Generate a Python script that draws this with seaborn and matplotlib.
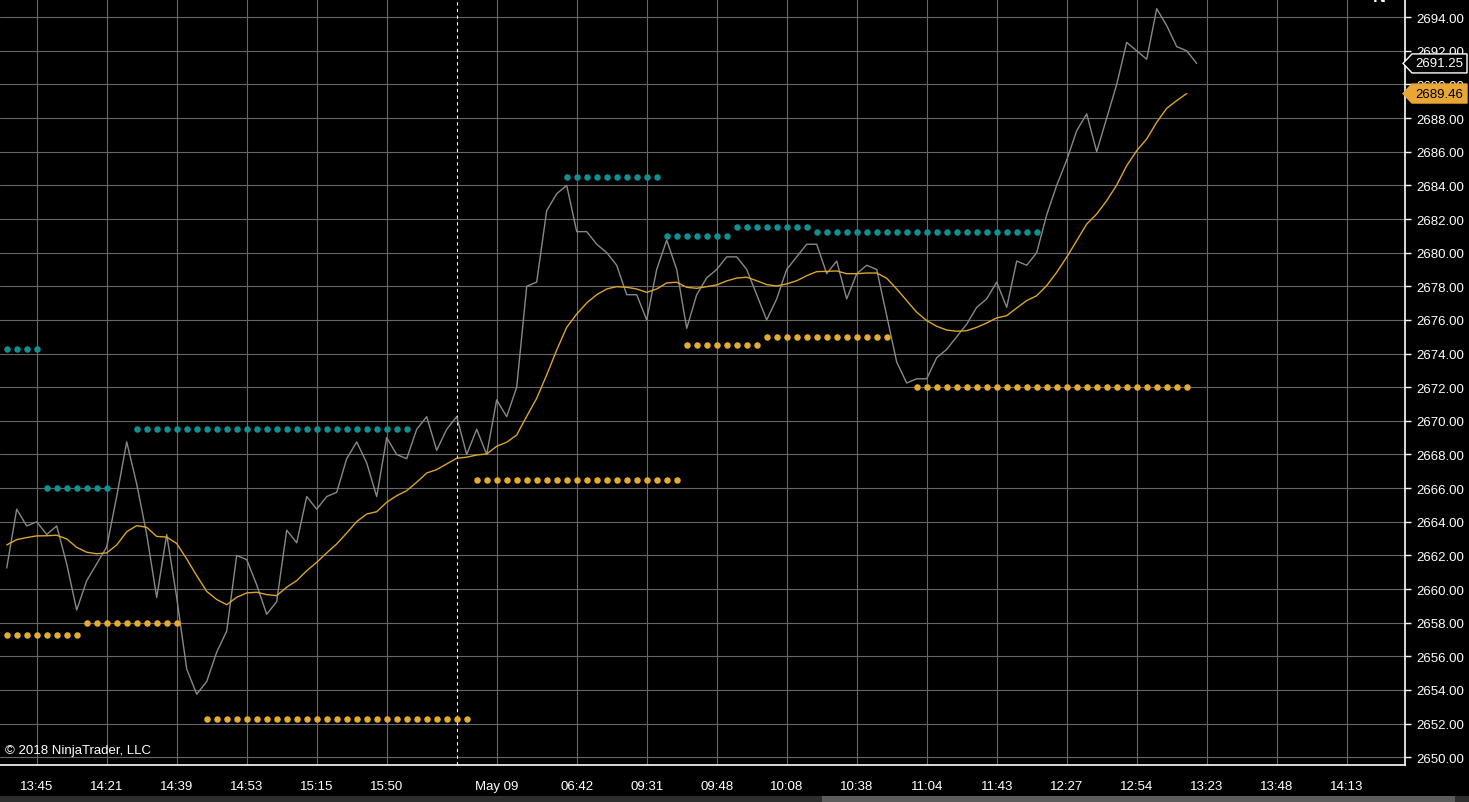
import numpy as np
import pandas as pd
import matplotlib
matplotlib.use("Agg")
import matplotlib.pyplot as plt
from matplotlib.patches import Polygon, Rectangle
import seaborn as sns

# Close prices per bar (gray line)
close = [
    2661.25, 2664.75, 2663.75, 2664.00, 2663.25, 2663.75, 2661.50, 2658.75, 2660.50, 2661.50,
    2662.50, 2665.50, 2668.75, 2666.25, 2663.25, 2659.50, 2663.25, 2659.50, 2655.25, 2653.75,
    2654.50, 2656.25, 2657.50, 2662.00, 2661.75, 2660.25, 2658.50, 2659.25, 2663.50, 2662.75,
    2665.50, 2664.75, 2665.50, 2665.75, 2667.75, 2668.75, 2667.50, 2665.50, 2669.00, 2668.00,
    2667.75, 2669.50, 2670.25, 2668.25, 2669.50, 2670.25, 2668.00, 2669.50, 2668.00, 2671.25,
    2670.25, 2672.00, 2678.00, 2678.25, 2682.50, 2683.50, 2684.00, 2681.25, 2681.25, 2680.50,
    2680.00, 2679.25, 2677.50, 2677.50, 2676.00, 2679.00, 2680.75, 2679.00, 2675.50, 2677.50,
    2678.50, 2679.00, 2679.75, 2679.75, 2679.00, 2677.50, 2676.00, 2677.25, 2679.00, 2679.75,
    2680.50, 2680.50, 2678.75, 2679.50, 2677.25, 2678.75, 2679.25, 2679.00, 2676.25, 2673.50,
    2672.25, 2672.50, 2672.50, 2673.75, 2674.25, 2675.00, 2675.75, 2676.75, 2677.25, 2678.25,
    2676.75, 2679.50, 2679.25, 2680.00, 2682.25, 2684.00, 2685.50, 2687.25, 2688.25, 2686.00,
    2688.00, 2690.00, 2692.50, 2692.00, 2691.50, 2694.50, 2693.50, 2692.25, 2692.00, 2691.25,
]

# Moving average per bar (orange line)
average = [
    2662.62, 2662.94, 2663.06, 2663.16, 2663.17, 2663.20, 2662.98, 2662.48, 2662.19, 2662.10,
    2662.15, 2662.62, 2663.41, 2663.77, 2663.67, 2663.13, 2663.09, 2662.71, 2661.79, 2660.80,
    2659.86, 2659.38, 2659.07, 2659.51, 2659.77, 2659.81, 2659.67, 2659.61, 2660.11, 2660.50,
    2661.09, 2661.59, 2662.15, 2662.68, 2663.33, 2664.01, 2664.46, 2664.60, 2665.16, 2665.55,
    2665.85, 2666.35, 2666.90, 2667.10, 2667.44, 2667.78, 2667.84, 2667.97, 2668.03, 2668.49,
    2668.73, 2669.16, 2670.27, 2671.34, 2672.73, 2674.21, 2675.56, 2676.35, 2677.01, 2677.50,
    2677.84, 2677.98, 2677.94, 2677.84, 2677.64, 2677.84, 2678.20, 2678.24, 2677.94, 2677.88,
    2677.98, 2678.08, 2678.32, 2678.49, 2678.54, 2678.33, 2678.10, 2678.02, 2678.14, 2678.33,
    2678.63, 2678.87, 2678.89, 2678.91, 2678.75, 2678.75, 2678.79, 2678.79, 2678.48, 2677.84,
    2677.15, 2676.46, 2675.96, 2675.62, 2675.40, 2675.33, 2675.36, 2675.56, 2675.82, 2676.12,
    2676.25, 2676.71, 2677.15, 2677.44, 2678.04, 2678.83, 2679.73, 2680.71, 2681.70, 2682.30,
    2683.09, 2684.02, 2685.17, 2686.06, 2686.76, 2687.75, 2688.58, 2689.04, 2689.46,
]

# Upper (teal) and lower (orange) dotted levels: first bar, last bar, price
upper_start = [0, 4, 13, 56, 66, 73, 81]
upper_end = [3, 10, 40, 65, 72, 80, 103]
upper_level = [2674.25, 2666.00, 2669.50, 2684.50, 2681.00, 2681.50, 2681.25]

lower_start = [0, 8, 20, 47, 68, 76, 91]
lower_end = [7, 17, 46, 67, 75, 88, 118]
lower_level = [2657.25, 2658.00, 2652.25, 2666.50, 2674.50, 2675.00, 2672.00]

# Time axis labels and the bars they sit on
tick_bars = [3, 10, 17, 24, 31, 38, 49, 57, 64, 71, 78, 85, 92, 99, 106, 113, 120, 127, 134]
tick_labels = ['13:45', '14:21', '14:39', '14:53', '15:15', '15:50', 'May 09', '06:42', '09:31',
               '09:48', '10:08', '10:38', '11:04', '11:43', '12:27', '12:54', '13:23', '13:48', '14:13']
session_break_bar = 45
price_ticks = list(range(2650, 2695, 2))

W, H = 1469, 803
GRAY = '#888888'
GOLD = '#daa52a'
TEAL = '#109090'

sns.set_theme(style="dark")
plt.rcParams['font.family'] = ['Liberation Sans', 'DejaVu Sans']


def expand(starts, ends, levels):
    rows = []
    for s, e, lv in zip(starts, ends, levels):
        for b in range(s, e + 1):
            rows.append((b, lv))
    return pd.DataFrame(rows, columns=['bar', 'price'])


df_close = pd.DataFrame({'bar': np.arange(len(close)), 'price': close})
df_avg = pd.DataFrame({'bar': np.arange(len(average)), 'price': average})
df_up = expand(upper_start, upper_end, upper_level)
df_low = expand(lower_start, lower_end, lower_level)

fig = plt.figure(figsize=(W / 100, H / 100), dpi=100, facecolor='black')
ax = fig.add_axes([0, 37 / H, 1405 / W, 1 - 37 / H])
ax.set_facecolor('black')

ax.set_xlim(-0.67, 139.83)
ax.set_ylim(2649.54, 2695.08)

# grid
for b in tick_bars:
    ax.axvline(b, color='#666666', lw=0.8, zorder=0)
for p in price_ticks:
    ax.axhline(p, color='#666666', lw=0.8, zorder=0)
ax.axvline(session_break_bar, color='white', lw=0.8, ls=(0, (3, 3)), zorder=1)

sns.lineplot(data=df_close, x='bar', y='price', ax=ax, color=GRAY, lw=1.0, zorder=3)
sns.lineplot(data=df_avg, x='bar', y='price', ax=ax, color=GOLD, lw=1.0, zorder=4)
sns.scatterplot(data=df_up, x='bar', y='price', ax=ax, color=TEAL, s=22, linewidth=0, zorder=5)
sns.scatterplot(data=df_low, x='bar', y='price', ax=ax, color='#e3ab2f', s=22, linewidth=0, zorder=5)

ax.set_xlabel('')
ax.set_ylabel('')
ax.grid(False)

ax.set_xticks(tick_bars)
ax.set_xticklabels(tick_labels)
ax.set_yticks(price_ticks)
ax.set_yticklabels([f'{p:.2f}' for p in price_ticks])
ax.yaxis.tick_right()
ax.tick_params(axis='both', colors='white', labelcolor='white', labelsize=9.5,
               length=4, width=1, direction='out')
ax.tick_params(axis='x', pad=7)
ax.tick_params(axis='y', pad=4)
for side in ['left', 'top']:
    ax.spines[side].set_visible(False)
for side in ['right', 'bottom']:
    ax.spines[side].set_visible(True)
    ax.spines[side].set_color('white')
    ax.spines[side].set_linewidth(1.2)

# last price markers on the price axis
def price_flag(value, face, edge, txt_color):
    yc = ax.transData.transform((0, value))[1]
    pts = [(1403, yc), (1412, yc + 9.5), (1467, yc + 9.5), (1467, yc - 9.5), (1412, yc - 9.5)]
    pts = [(x / W, y / H) for x, y in pts]
    fig.patches.append(Polygon(pts, closed=True, transform=fig.transFigure,
                               facecolor=face, edgecolor=edge, lw=1, zorder=10))
    fig.text(1439 / W, yc / H, f'{value:.2f}', color=txt_color, fontsize=9.5,
             ha='center', va='center', zorder=11)

price_flag(close[-1], 'black', 'white', 'white')
price_flag(average[-1], '#e8a735', '#e8a735', 'black')

fig.text(5 / W, 1 - 751 / H, '\u00a9 2018 NinjaTrader, LLC', color='white', fontsize=9.5,
         ha='left', va='center')

# logo glyph peeking in at the top edge
fig.text(1379 / W, 1 + 3 / H, 'N', color='white', fontsize=13, fontweight='bold',
         ha='center', va='center')

# scroll bar strip at the bottom
fig.patches.append(Rectangle((0, 0), 1, 6 / H, transform=fig.transFigure,
                             facecolor='#2e2e2e', edgecolor='none'))
fig.patches.append(Rectangle((822 / W, 0), (1455 - 822) / W, 6 / H, transform=fig.transFigure,
                             facecolor='#5c5c5c', edgecolor='none'))

fig.savefig('out.png', dpi=100, facecolor='black')
